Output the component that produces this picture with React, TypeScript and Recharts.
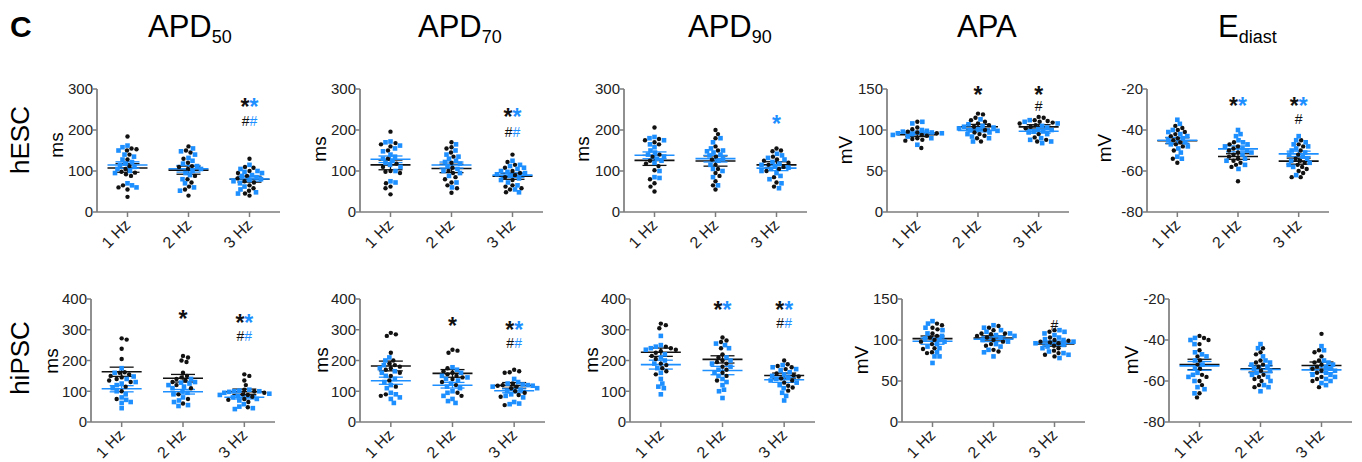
import React from 'react';
import { ScatterChart, Scatter, XAxis, YAxis, ReferenceLine } from 'recharts';

const FONT = '"Liberation Sans", Arial, Helvetica, sans-serif';
const BLUE = '#1E8FFF';
const BLACK = '#111111';
const AXIS = '#7d7d7d';

// ---------- categories / labels ----------
const categories = ['1 Hz', '2 Hz', '3 Hz'];
const rowLabels = ['hESC', 'hiPSC'];
const titleMain = ['APD', 'APD', 'APD', 'APA', 'E'];
const titleSub = ['50', '70', '90', '', 'diast'];
const units = ['ms', 'ms', 'ms', 'mV', 'mV'];
const ticksHescApd = [0, 100, 200, 300];
const ticksHipscApd = [0, 100, 200, 300, 400];
const ticksApa = [0, 50, 100, 150];
const ticksEdiast = [-80, -60, -40, -20];

// ---------- hESC data (per frequency: 1 Hz, 2 Hz, 3 Hz) ----------
const hESC_APD50_black = [
  [184, 155, 153, 150, 140, 128, 112, 105, 98, 96, 92, 88, 65, 60, 55, 37],
  [160, 150, 145, 130, 120, 112, 110, 105, 88, 80, 72, 62, 55, 40],
  [130, 110, 108, 100, 95, 88, 82, 75, 72, 65, 58, 52, 45, 40],
];
const hESC_APD50_blue = [
  [162, 158, 150, 140, 135, 128, 122, 118, 115, 110, 105, 100, 95, 70, 65, 60],
  [155, 148, 140, 132, 125, 118, 112, 105, 100, 95, 90, 80, 70, 60, 52],
  [115, 105, 100, 98, 95, 90, 88, 85, 80, 78, 75, 70, 62, 55, 48, 45],
];
const hESC_APD70_black = [
  [196, 168, 165, 160, 150, 130, 118, 110, 100, 98, 95, 70, 62, 58, 43],
  [170, 158, 155, 145, 135, 120, 108, 100, 95, 85, 80, 72, 65, 58, 47],
  [140, 122, 115, 108, 100, 95, 90, 85, 78, 65, 62, 58, 55, 48],
];
const hESC_APD70_blue = [
  [172, 170, 162, 155, 148, 140, 135, 130, 125, 120, 115, 110, 100, 75, 72],
  [165, 150, 140, 135, 130, 125, 122, 118, 112, 105, 100, 95, 88, 72, 60],
  [125, 115, 112, 108, 105, 100, 98, 95, 92, 88, 82, 78, 72, 65, 55, 48],
];
const hESC_APD90_black = [
  [206, 178, 175, 170, 165, 140, 135, 125, 118, 112, 102, 80, 70, 62, 50],
  [200, 190, 180, 160, 150, 135, 128, 115, 105, 95, 88, 75, 65, 55],
  [155, 150, 148, 135, 128, 125, 120, 115, 110, 105, 100, 85, 72, 62],
];
const hESC_APD90_blue = [
  [183, 180, 175, 165, 158, 150, 145, 140, 135, 130, 125, 120, 100, 85, 83],
  [180, 170, 155, 150, 148, 145, 140, 138, 130, 125, 115, 105, 100, 85, 65],
  [142, 138, 132, 128, 122, 118, 115, 112, 108, 105, 100, 95, 88, 80, 70, 58],
];
const hESC_APA_black = [
  [110, 103, 101, 98, 97, 96, 94, 93, 90, 89, 88, 87, 78],
  [120, 119, 115, 112, 110, 108, 106, 104, 100, 97, 95, 93, 90, 86],
  [116, 115, 112, 111, 110, 109, 108, 106, 104, 102, 95, 91, 88, 86],
];
const hESC_APA_blue = [
  [110, 108, 100, 99, 98, 97, 96, 96, 95, 94, 92, 90, 82],
  [113, 107, 105, 104, 103, 102, 101, 100, 99, 97, 95, 92, 90, 86],
  [112, 110, 108, 105, 103, 101, 100, 99, 98, 97, 95, 90, 88, 86, 84],
];
const hESC_Ediast_black = [
  [-38, -39, -40, -41, -42, -43, -44, -45, -46, -47, -48, -50, -54, -56],
  [-46, -47, -48, -49, -50, -51, -52, -53, -54, -55, -56, -57, -58, -65],
  [-45, -47, -48, -50, -52, -54, -55, -56, -57, -58, -59, -60, -61, -63, -63],
];
const hESC_Ediast_blue = [
  [-35, -37, -40, -41, -42, -43, -44, -45, -46, -47, -48, -49, -51, -53, -54],
  [-40, -42, -43, -45, -46, -47, -48, -49, -50, -51, -52, -54, -55, -57, -59],
  [-43, -45, -46, -47, -48, -49, -50, -51, -52, -53, -54, -55, -56, -57, -58, -62],
];

// ---------- hiPSC data ----------
const hiPSC_APD50_black = [
  [272, 268, 238, 205, 162, 160, 155, 150, 145, 140, 135, 130, 115, 100, 75],
  [215, 210, 200, 195, 160, 150, 145, 140, 135, 130, 120, 110, 90, 75, 60],
  [155, 150, 135, 120, 105, 100, 95, 90, 88, 82, 75, 72, 65, 48],
];
const hiPSC_APD50_blue = [
  [175, 160, 148, 140, 130, 125, 120, 110, 100, 90, 80, 72, 65, 62, 45],
  [140, 130, 128, 125, 120, 115, 110, 100, 95, 90, 80, 70, 65, 55, 52],
  [105, 102, 100, 100, 98, 95, 92, 88, 85, 80, 75, 70, 58, 50, 45, 42],
];
const hiPSC_APD70_black = [
  [290, 285, 280, 225, 200, 190, 185, 180, 175, 170, 160, 150, 135, 115, 90, 85],
  [235, 232, 225, 175, 165, 160, 155, 150, 145, 140, 130, 120, 95, 85],
  [170, 165, 162, 160, 125, 120, 118, 115, 110, 100, 95, 88, 82, 55],
];
const hiPSC_APD70_blue = [
  [210, 200, 185, 175, 165, 160, 150, 140, 130, 120, 110, 95, 90, 80, 75, 62],
  [178, 170, 160, 150, 145, 140, 135, 125, 115, 110, 100, 95, 85, 75, 68, 62],
  [140, 130, 125, 122, 120, 118, 115, 110, 105, 100, 90, 85, 80, 65, 60, 58],
];
const hiPSC_APD90_black = [
  [320, 315, 305, 245, 240, 235, 230, 225, 215, 205, 190, 185, 175, 165, 155],
  [275, 265, 260, 240, 220, 210, 200, 195, 190, 180, 170, 160, 150, 135],
  [200, 188, 182, 178, 172, 158, 152, 148, 142, 135, 128, 118, 112, 102],
];
const hiPSC_APD90_blue = [
  [280, 250, 245, 240, 235, 220, 210, 200, 190, 175, 160, 140, 125, 115, 110, 90],
  [255, 250, 240, 210, 200, 190, 180, 170, 160, 150, 140, 130, 120, 105, 100, 78],
  [185, 178, 172, 168, 162, 155, 150, 145, 140, 135, 128, 120, 110, 95, 85, 70],
];
const hiPSC_APA_black = [
  [120, 118, 115, 113, 108, 105, 103, 100, 98, 95, 90, 89, 85, 84],
  [117, 115, 112, 108, 108, 107, 105, 103, 100, 98, 95, 93, 88, 86],
  [112, 110, 103, 100, 99, 98, 97, 96, 93, 90, 87, 84, 82, 80],
];
const hiPSC_APA_blue = [
  [123, 120, 115, 112, 108, 105, 102, 100, 98, 95, 92, 90, 85, 80, 80, 72],
  [118, 115, 112, 110, 108, 106, 105, 103, 100, 98, 95, 92, 88, 85, 80],
  [112, 110, 108, 106, 103, 101, 100, 98, 96, 94, 92, 90, 86, 84, 82, 78],
];
const hiPSC_Ediast_black = [
  [-38, -39, -40, -42, -45, -48, -50, -52, -54, -57, -58, -60, -62, -66, -68],
  [-44, -46, -47, -50, -51, -52, -53, -55, -57, -58, -59, -60, -62, -63],
  [-37, -45, -46, -48, -50, -51, -52, -53, -54, -55, -56, -58, -59, -60, -63],
];
const hiPSC_Ediast_blue = [
  [-39, -40, -42, -46, -47, -48, -50, -52, -54, -56, -57, -58, -60, -63, -64, -66],
  [-42, -44, -48, -50, -51, -52, -53, -54, -55, -56, -57, -58, -60, -62, -63, -65],
  [-43, -45, -50, -51, -52, -53, -54, -55, -56, -57, -57, -58, -59, -60, -61, -62],
];

// ---------- significance marks (cat index, value, glyph, colours k=black b=blue) ----------
type Mark = { cat: number; y: number; glyph: string; colors: string };
const hESC_APD50_marks: Mark[] = [
  { cat: 2, y: 268, glyph: '*', colors: 'kb' },
  { cat: 2, y: 222, glyph: '#', colors: 'kb' },
];
const hESC_APD70_marks: Mark[] = [
  { cat: 2, y: 244, glyph: '*', colors: 'kb' },
  { cat: 2, y: 196, glyph: '#', colors: 'kb' },
];
const hESC_APD90_marks: Mark[] = [{ cat: 2, y: 227, glyph: '*', colors: 'b' }];
const hESC_APA_marks: Mark[] = [
  { cat: 1, y: 149, glyph: '*', colors: 'k' },
  { cat: 2, y: 149, glyph: '*', colors: 'k' },
  { cat: 2, y: 129, glyph: '#', colors: 'k' },
];
const hESC_Ediast_marks: Mark[] = [
  { cat: 1, y: -26, glyph: '*', colors: 'kb' },
  { cat: 2, y: -26, glyph: '*', colors: 'kb' },
  { cat: 2, y: -34.5, glyph: '#', colors: 'k' },
];
const hiPSC_APD50_marks: Mark[] = [
  { cat: 1, y: 351, glyph: '*', colors: 'k' },
  { cat: 2, y: 338, glyph: '*', colors: 'kb' },
  { cat: 2, y: 280, glyph: '#', colors: 'kb' },
];
const hiPSC_APD70_marks: Mark[] = [
  { cat: 1, y: 328, glyph: '*', colors: 'k' },
  { cat: 2, y: 315, glyph: '*', colors: 'kb' },
  { cat: 2, y: 257, glyph: '#', colors: 'kb' },
];
const hiPSC_APD90_marks: Mark[] = [
  { cat: 1, y: 380, glyph: '*', colors: 'kb' },
  { cat: 2, y: 380, glyph: '*', colors: 'kb' },
  { cat: 2, y: 323, glyph: '#', colors: 'kb' },
];
const hiPSC_APA_marks: Mark[] = [{ cat: 2, y: 118, glyph: '#', colors: 'k' }];
const hiPSC_Ediast_marks: Mark[] = [];

// ---------- layout ----------
const panels = [
  { xa: 97, xr: 280, yt: 89, yb: 212, unitX: 63, unitY: 145, unit: units[0], domain: [0, 300], ticks: ticksHescApd, black: hESC_APD50_black, blue: hESC_APD50_blue, marks: hESC_APD50_marks },
  { xa: 360, xr: 543, yt: 89, yb: 212, unitX: 326, unitY: 149, unit: units[1], domain: [0, 300], ticks: ticksHescApd, black: hESC_APD70_black, blue: hESC_APD70_blue, marks: hESC_APD70_marks },
  { xa: 624, xr: 807, yt: 89, yb: 212, unitX: 589, unitY: 149, unit: units[2], domain: [0, 300], ticks: ticksHescApd, black: hESC_APD90_black, blue: hESC_APD90_blue, marks: hESC_APD90_marks },
  { xa: 887, xr: 1069, yt: 89, yb: 212, unitX: 852, unitY: 150, unit: units[3], domain: [0, 150], ticks: ticksApa, black: hESC_APA_black, blue: hESC_APA_blue, marks: hESC_APA_marks },
  { xa: 1147, xr: 1329, yt: 89, yb: 212, unitX: 1111, unitY: 148, unit: units[4], domain: [-80, -20], ticks: ticksEdiast, black: hESC_Ediast_black, blue: hESC_Ediast_blue, marks: hESC_Ediast_marks },
  { xa: 91, xr: 275, yt: 299, yb: 422, unitX: 58, unitY: 361, unit: units[0], domain: [0, 400], ticks: ticksHipscApd, black: hiPSC_APD50_black, blue: hiPSC_APD50_blue, marks: hiPSC_APD50_marks },
  { xa: 360, xr: 545, yt: 299, yb: 422, unitX: 328, unitY: 360, unit: units[1], domain: [0, 400], ticks: ticksHipscApd, black: hiPSC_APD70_black, blue: hiPSC_APD70_blue, marks: hiPSC_APD70_marks },
  { xa: 630, xr: 815, yt: 299, yb: 422, unitX: 598, unitY: 360, unit: units[2], domain: [0, 400], ticks: ticksHipscApd, black: hiPSC_APD90_black, blue: hiPSC_APD90_blue, marks: hiPSC_APD90_marks },
  { xa: 902, xr: 1085, yt: 299, yb: 422, unitX: 868, unitY: 360, unit: units[3], domain: [0, 150], ticks: ticksApa, black: hiPSC_APA_black, blue: hiPSC_APA_blue, marks: hiPSC_APA_marks },
  { xa: 1169, xr: 1352, yt: 299, yb: 422, unitX: 1138, unitY: 360, unit: units[4], domain: [-80, -20], ticks: ticksEdiast, black: hiPSC_Ediast_black, blue: hiPSC_Ediast_blue, marks: hiPSC_Ediast_marks },
];
const titleX = [148, 418, 688, 957, 1218];
const rowLabelY = [140, 358];

// ---------- helpers ----------
function stats(a: number[]) {
  const n = a.length;
  const m = a.reduce((s, v) => s + v, 0) / n;
  const sd = Math.sqrt(a.reduce((s, v) => s + (v - m) ** 2, 0) / (n - 1));
  return { m, se: sd / Math.sqrt(n) };
}

// beeswarm layout (positions only): offsets in px, converted to x data units
function swarm(black: number[], blue: number[], pxPerUnitY: number, unitsPerPxX: number) {
  const pts = [...black.map((v) => ({ v, s: 'k' })), ...blue.map((v) => ({ v, s: 'b' }))];
  pts.sort((a, b) => b.v - a.v);
  const placed: { x: number; y: number }[] = [];
  const D = 4.8;
  const res: { v: number; s: string; dx: number }[] = [];
  pts.forEach((p, i) => {
    const y = p.v * pxPerUnitY;
    const sgn = i % 2 ? 1 : -1;
    let dx = 0;
    for (let k = 0; k < 400; k++) {
      const c = k === 0 ? 0 : (k % 2 ? sgn : -sgn) * Math.ceil(k / 2) * 0.5;
      if (placed.every((q) => (q.x - c) ** 2 + (q.y - y) ** 2 >= D * D)) {
        dx = c;
        break;
      }
    }
    placed.push({ x: dx, y });
    res.push({ ...p, dx: dx * unitsPerPxX });
  });
  return res;
}

const Dot = (p: any) => <circle cx={p.cx} cy={p.cy} r={2.2} fill={BLACK} />;
const Sq = (p: any) => <rect x={p.cx - 2.3} y={p.cy - 2.3} width={4.6} height={4.6} fill={BLUE} />;
const MarkShape = (p: any) => {
  const d = p.payload;
  const star = d.glyph === '*';
  return (
    <text
      x={p.cx}
      y={p.cy + (star ? 13 : 5)}
      textAnchor="middle"
      fontSize={star ? 23 : 14}
      fontWeight={star ? 'bold' : 'normal'}
      fontFamily={FONT}
    >
      {d.colors.split('').map((c: string, i: number) => (
        <tspan key={i} fill={c === 'k' ? BLACK : BLUE}>
          {d.glyph}
        </tspan>
      ))}
    </text>
  );
};

const XTick = (p: any) => {
  const { x, y, payload } = p;
  const label = categories[Math.floor(payload.value)];
  const ax = x + 4;
  const ay = y + 9;
  return (
    <text
      x={ax}
      y={ay}
      transform={`rotate(-45, ${ax}, ${ay})`}
      textAnchor="end"
      fontSize={16}
      fontFamily={FONT}
      fill="#222"
    >
      {label}
    </text>
  );
};

function Panel({ cfg }: { cfg: any }) {
  const { xa, xr, yt, yb, domain, ticks, black, blue, marks } = cfg;
  const pw = xr - xa;
  const ph = yb - yt;
  const pxPerUnitY = ph / (domain[1] - domain[0]);
  const upx = 3 / pw;
  const blackPts: { x: number; y: number }[] = [];
  const bluePts: { x: number; y: number }[] = [];
  const lines: React.ReactNode[] = [];
  for (let g = 0; g < 3; g++) {
    const sw = swarm(black[g], blue[g], pxPerUnitY, upx);
    sw.forEach((p) => (p.s === 'k' ? blackPts : bluePts).push({ x: g + 0.5 + p.dx, y: p.v }));
    const c = g + 0.5;
    [
      { arr: black[g], col: BLACK },
      { arr: blue[g], col: BLUE },
    ].forEach(({ arr, col }, si) => {
      const { m, se } = stats(arr);
      const mw = 20 * upx;
      const cw = 12 * upx;
      const k = `${g}-${si}`;
      lines.push(
        <ReferenceLine key={`m${k}`} segment={[{ x: c - mw, y: m }, { x: c + mw, y: m }]} stroke={col} strokeWidth={1.6} ifOverflow="visible" />,
        <ReferenceLine key={`u${k}`} segment={[{ x: c - cw, y: m + se }, { x: c + cw, y: m + se }]} stroke={col} strokeWidth={1.3} ifOverflow="visible" />,
        <ReferenceLine key={`l${k}`} segment={[{ x: c - cw, y: m - se }, { x: c + cw, y: m - se }]} stroke={col} strokeWidth={1.3} ifOverflow="visible" />,
        <ReferenceLine key={`v${k}`} segment={[{ x: c, y: m - se }, { x: c, y: m + se }]} stroke={col} strokeWidth={1.3} ifOverflow="visible" />
      );
    });
  }
  const markPts = marks.map((mk: Mark) => ({ x: mk.cat + 0.5, y: mk.y, glyph: mk.glyph, colors: mk.colors }));
  return (
    <div style={{ position: 'absolute', left: xa - 70, top: yt - 20 }}>
      <ScatterChart width={pw + 75} height={ph + 65} margin={{ top: 20, right: 5, bottom: 5, left: 10 }}>
        <XAxis
          type="number"
          dataKey="x"
          domain={[0, 3]}
          ticks={[0.5, 1.5, 2.5]}
          interval={0}
          height={40}
          tick={<XTick />}
          tickSize={5}
          tickMargin={0}
          axisLine={{ stroke: AXIS, strokeWidth: 1.7 }}
          tickLine={{ stroke: AXIS, strokeWidth: 1.5 }}
        />
        <YAxis
          type="number"
          dataKey="y"
          domain={domain}
          ticks={ticks}
          interval={0}
          width={60}
          tickSize={4}
          tickMargin={0}
          axisLine={{ stroke: AXIS, strokeWidth: 1.7 }}
          tickLine={{ stroke: AXIS, strokeWidth: 1.5 }}
          tick={{ fontSize: 15, fill: '#222', fontFamily: FONT }}
        />
        <Scatter data={blackPts} shape={Dot} isAnimationActive={false} />
        <Scatter data={bluePts} shape={Sq} isAnimationActive={false} />
        {lines}
        <Scatter data={markPts} shape={MarkShape} isAnimationActive={false} />
      </ScatterChart>
    </div>
  );
}

export default function App() {
  return (
    <div
      style={{
        position: 'absolute',
        left: 0,
        top: 0,
        width: 1362,
        height: 462,
        background: '#fff',
        overflow: 'hidden',
        fontFamily: FONT,
      }}
    >
      <svg width={1362} height={462} style={{ position: 'absolute', left: 0, top: 0 }}>
        <text x={10} y={37} fontSize={30} fontWeight="bold" fontFamily={FONT} fill="#000">
          C
        </text>
        {titleMain.map((t, i) => (
          <text key={i} x={titleX[i]} y={37} fontSize={31} fontFamily={FONT} fill="#000">
            {t}
            {titleSub[i] ? (
              <tspan fontSize={18} dy={6}>
                {titleSub[i]}
              </tspan>
            ) : null}
          </text>
        ))}
        {rowLabels.map((r, i) => (
          <text
            key={r}
            transform={`translate(29, ${rowLabelY[i]}) rotate(-90)`}
            textAnchor="middle"
            fontSize={26}
            fontFamily={FONT}
            fill="#000"
          >
            {r}
          </text>
        ))}
        {panels.map((p, i) => (
          <text
            key={i}
            transform={`translate(${p.unitX}, ${p.unitY}) rotate(-90)`}
            textAnchor="middle"
            fontSize={19}
            fontFamily={FONT}
            fill="#000"
          >
            {p.unit}
          </text>
        ))}
      </svg>
      {panels.map((p, i) => (
        <Panel key={i} cfg={p} />
      ))}
    </div>
  );
}
